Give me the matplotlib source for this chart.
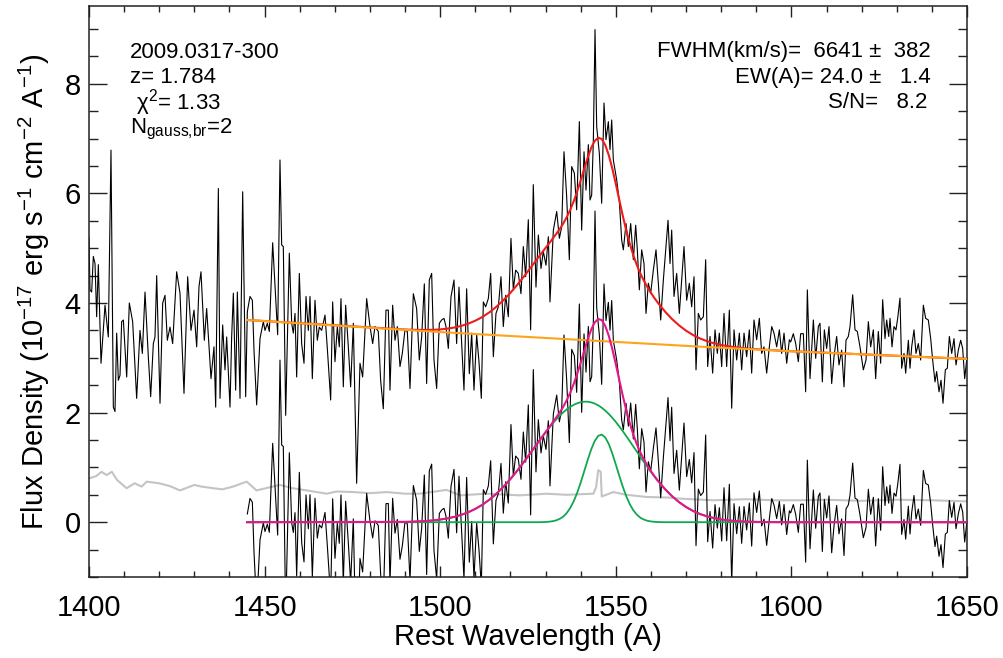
import numpy as np
import matplotlib
matplotlib.use("Agg")
import matplotlib.pyplot as plt
from matplotlib.ticker import MultipleLocator

# ---------------- data ----------------
# observed spectrum (rest wavelength, flux density)
wave = [1400.00, 1400.28, 1400.76, 1401.23, 1401.71, 1402.18, 1402.66, 1403.42, 1404.56, 1405.50,
        1406.26, 1406.93, 1407.40, 1407.88, 1408.35, 1408.83, 1409.30, 1409.78, 1410.73, 1411.48,
        1412.43, 1413.57, 1414.52, 1415.19, 1415.95, 1416.89, 1417.56, 1418.32, 1418.79, 1419.27,
        1420.22, 1420.98, 1421.64, 1422.30, 1423.06, 1423.82, 1424.96, 1425.91, 1427.05, 1428.09,
        1429.04, 1429.90, 1430.66, 1431.32, 1431.89, 1432.84, 1433.50, 1434.74, 1435.59, 1436.07,
        1436.83, 1437.30, 1438.06, 1438.72, 1439.20, 1440.15, 1440.62, 1441.10, 1441.76, 1442.24,
        1443.00, 1443.76, 1444.61, 1445.08, 1445.84, 1446.51, 1446.98, 1447.74, 1448.69, 1449.64,
        1450.11, 1450.78, 1451.35, 1451.82, 1452.30, 1453.25, 1453.72, 1454.38, 1454.86, 1455.33,
        1456.00, 1457.04, 1457.71, 1458.18, 1458.66, 1459.13, 1459.89, 1460.55, 1461.22, 1461.79,
        1462.45, 1462.93, 1463.59, 1464.35, 1465.01, 1465.58, 1466.25, 1467.20, 1467.86, 1468.81,
        1469.38, 1470.04, 1470.71, 1471.27, 1471.75, 1472.41, 1473.08, 1473.84, 1474.50, 1475.26,
        1476.21, 1477.16, 1477.92, 1479.06, 1480.01, 1480.77, 1481.43, 1482.38, 1483.04, 1483.80,
        1484.56, 1485.23, 1485.70, 1486.46, 1487.13, 1487.79, 1488.55, 1489.21, 1489.97, 1490.64,
        1491.40, 1492.35, 1493.29, 1494.05, 1494.72, 1495.48, 1496.14, 1496.90, 1497.57, 1498.23,
        1498.99, 1499.75, 1500.41, 1501.08, 1501.65, 1502.31, 1503.07, 1503.93, 1504.68, 1505.35,
        1505.92, 1506.77, 1507.53, 1508.29, 1508.96, 1509.62, 1510.38, 1511.04, 1511.71, 1512.28,
        1512.94, 1513.70, 1514.37, 1515.13, 1515.88, 1516.55, 1517.31, 1517.97, 1518.64, 1519.39,
        1520.15, 1520.82, 1521.48, 1522.24, 1523.00, 1523.67, 1524.33, 1525.09, 1525.75, 1526.51,
        1527.27, 1527.94, 1528.70, 1529.36, 1530.12, 1530.79, 1531.26, 1532.22, 1533.17, 1533.93,
        1534.59, 1535.25, 1536.01, 1536.77, 1537.44, 1538.20, 1538.86, 1539.62, 1540.28, 1540.95,
        1541.52, 1542.18, 1542.66, 1543.13, 1543.61, 1544.08, 1544.56, 1545.31, 1545.98, 1546.64,
        1547.21, 1547.88, 1548.35, 1548.83, 1549.30, 1550.25, 1551.01, 1551.67, 1552.15, 1552.91,
        1553.57, 1554.24, 1555.00, 1555.66, 1556.13, 1556.70, 1557.37, 1558.03, 1558.60, 1559.27,
        1559.93, 1560.69, 1561.45, 1562.11, 1562.78, 1563.54, 1564.30, 1564.87, 1565.44, 1565.91,
        1566.58, 1567.33, 1568.09, 1568.76, 1569.42, 1570.18, 1570.94, 1571.61, 1572.27, 1572.84,
        1573.50, 1574.17, 1574.93, 1575.59, 1576.16, 1576.83, 1577.58, 1578.25, 1578.91, 1579.48,
        1580.15, 1580.81, 1581.57, 1582.33, 1583.00, 1583.66, 1584.42, 1585.18, 1585.84, 1586.51,
        1587.26, 1588.02, 1588.69, 1589.35, 1590.11, 1590.87, 1591.54, 1592.20, 1592.96, 1593.72,
        1594.40, 1595.05, 1595.81, 1596.57, 1597.23, 1597.90, 1598.66, 1599.42, 1599.79, 1600.55,
        1601.22, 1601.97, 1602.64, 1603.40, 1604.06, 1604.54, 1605.30, 1606.25, 1606.91, 1607.67,
        1608.14, 1608.81, 1609.38, 1610.04, 1610.71, 1611.47, 1612.13, 1612.89, 1613.55, 1614.31,
        1614.98, 1615.55, 1616.21, 1616.69, 1617.45, 1618.11, 1618.77, 1619.53, 1620.48, 1621.24,
        1621.91, 1622.57, 1623.33, 1623.99, 1624.75, 1625.42, 1625.99, 1626.65, 1627.13, 1627.70,
        1628.08, 1628.65, 1629.22, 1629.78, 1630.26, 1630.92, 1631.40, 1632.06, 1632.54, 1633.30,
        1633.77, 1634.25, 1634.91, 1635.48, 1636.14, 1636.81, 1637.57, 1638.23, 1638.99, 1639.66,
        1640.22, 1640.89, 1641.36, 1642.03, 1642.60, 1643.17, 1643.83, 1644.40, 1644.97, 1645.64,
        1646.30, 1646.87, 1647.53, 1648.20, 1648.77, 1649.34, 1649.91]
flux = [5.19, 4.24, 4.20, 4.85, 4.72, 3.75, 4.70, 2.90, 3.96, 3.38,
        6.79, 2.10, 2.02, 3.45, 2.59, 2.68, 3.66, 3.69, 2.65, 4.00,
        3.66, 2.26, 3.50, 3.08, 4.20, 3.02, 2.29, 3.26, 3.38, 4.50,
        2.17, 4.00, 4.14, 3.32, 3.56, 3.26, 4.57, 4.18, 2.35, 4.48,
        3.50, 3.87, 3.20, 4.30, 4.57, 3.32, 3.90, 2.62, 3.20, 2.10,
        6.09, 2.26, 3.60, 2.78, 3.38, 2.10, 3.38, 4.18, 2.41, 4.20,
        2.26, 6.03, 2.29, 3.84, 4.12, 4.05, 3.14, 2.14, 3.35, 3.66,
        3.50, 3.63, 3.48, 4.30, 5.10, 3.99, 3.42, 6.61, 5.06, 5.03,
        1.95, 4.91, 3.63, 3.45, 3.81, 2.65, 4.54, 3.26, 2.90, 4.12,
        3.50, 4.12, 2.62, 4.05, 3.32, 3.56, 3.50, 3.78, 3.17, 2.23,
        4.02, 2.93, 3.57, 3.20, 4.08, 2.47, 3.96, 3.20, 2.47, 3.63,
        0.71, 2.90, 2.65, 4.08, 3.57, 3.26, 3.57, 3.48, 2.59, 2.07,
        3.87, 3.87, 2.41, 3.96, 3.32, 3.57, 2.84, 3.08, 3.51, 3.48,
        2.44, 4.17, 3.90, 2.96, 3.38, 4.35, 2.53, 4.42, 4.54, 2.96,
        2.44, 3.63, 3.69, 3.72, 3.57, 3.17, 4.11, 4.42, 3.26, 4.29,
        3.51, 2.41, 4.26, 2.71, 3.45, 2.41, 3.42, 2.93, 2.26, 4.02,
        3.93, 4.08, 4.54, 3.02, 3.81, 3.93, 4.48, 3.57, 4.14, 3.75,
        5.18, 4.24, 4.60, 4.54, 4.17, 5.03, 4.48, 5.52, 3.51, 6.16,
        4.29, 5.24, 4.63, 4.94, 4.69, 5.21, 4.02, 5.33, 5.67, 5.18,
        5.39, 6.76, 5.94, 4.79, 6.49, 6.37, 5.70, 7.31, 5.33, 6.76,
        6.06, 6.89, 5.88, 5.97, 6.98, 8.99, 7.22, 6.73, 5.82, 7.65,
        6.98, 7.31, 6.80, 7.34, 6.61, 6.25, 5.85, 5.15, 4.97, 5.45,
        5.03, 5.45, 4.79, 5.42, 4.97, 4.24, 4.97, 4.72, 3.81, 4.36,
        4.18, 4.60, 4.97, 4.36, 3.69, 4.42, 5.03, 5.51, 4.72, 5.33,
        4.12, 4.54, 3.81, 4.42, 5.03, 4.05, 4.36, 3.93, 4.48, 2.78,
        3.81, 3.69, 3.75, 4.79, 2.84, 3.39, 2.72, 3.51, 3.08, 3.45,
        2.84, 3.81, 2.84, 3.87, 2.08, 3.51, 2.96, 3.45, 2.78, 3.45,
        3.02, 3.51, 2.72, 3.69, 3.33, 3.72, 3.08, 3.20, 2.72, 3.20,
        3.57, 3.45, 3.20, 3.51, 3.08, 3.45, 2.90, 3.33, 3.29, 3.44,
        3.26, 2.93, 3.44, 3.44, 2.38, 4.24, 2.62, 3.69, 2.99, 3.57,
        3.63, 2.56, 3.51, 3.17, 3.57, 2.53, 3.02, 3.39, 2.87, 3.14,
        2.47, 3.32, 3.39, 3.57, 4.15, 3.51, 3.48, 3.20, 2.78, 2.96,
        3.66, 3.20, 3.51, 2.62, 3.48, 2.90, 4.06, 3.35, 3.69, 3.39,
        3.72, 3.20, 3.57, 3.51, 3.72, 4.09, 2.81, 3.08, 2.72, 3.32,
        2.81, 3.20, 3.51, 3.08, 3.26, 2.96, 3.96, 3.72, 3.69, 3.35,
        2.96, 2.56, 2.75, 2.38, 2.59, 2.17, 2.78, 2.81, 3.39, 3.08,
        3.35, 2.87, 3.14, 3.32, 3.17, 2.62, 2.96]

# error spectrum (grey)
err_wave = [1400, 1402, 1403.6, 1405, 1406.5, 1408, 1410.7, 1413, 1415, 1416.4,
            1420, 1423, 1425.9, 1430, 1432, 1435.4, 1438, 1441, 1444.9, 1447.7,
            1451, 1454.4, 1458, 1462, 1467.7, 1470.5, 1475.3, 1480, 1484.8, 1490,
            1494.2, 1501.8, 1505.6, 1513.2, 1522.7, 1530.3, 1536, 1543.6, 1544.4, 1545.0,
            1545.7, 1546.0, 1549.3, 1553, 1558.8, 1565, 1568.3, 1577.8, 1587, 1595,
            1602.4, 1610, 1620, 1630, 1640, 1650]
err_flux = [0.80, 0.84, 0.92, 0.86, 0.92, 0.77, 0.62, 0.71, 0.65, 0.74,
            0.71, 0.66, 0.58, 0.68, 0.65, 0.62, 0.60, 0.65, 0.74, 0.58,
            0.63, 0.68, 0.62, 0.58, 0.52, 0.56, 0.55, 0.53, 0.55, 0.52,
            0.52, 0.59, 0.49, 0.52, 0.49, 0.52, 0.50, 0.52, 0.64, 0.95,
            0.92, 0.47, 0.55, 0.50, 0.46, 0.45, 0.43, 0.40, 0.42, 0.40,
            0.40, 0.41, 0.39, 0.41, 0.40, 0.38]

# continuum fit (orange)
cont_wave = [1445, 1470, 1500, 1525, 1550, 1575, 1600, 1625, 1650]
cont_flux = [3.69, 3.59, 3.47, 3.38, 3.29, 3.20, 3.12, 3.05, 2.98]

# broad and narrow Gaussian components (green)
model_wave = ([1445] + list(range(1490, 1531, 2)) + list(range(1531, 1563))
              + list(range(1564, 1601, 2)) + [1650])
broad = [0.0,
         0.006, 0.009, 0.015, 0.022, 0.033, 0.048, 0.069, 0.097, 0.134, 0.182,
         0.243, 0.318, 0.41, 0.519, 0.645, 0.788, 0.945, 1.114, 1.29, 1.467, 1.64,
         1.72, 1.80, 1.874, 1.94, 2.003, 2.057, 2.103, 2.141, 2.17, 2.189, 2.199,
         2.199, 2.187, 2.165, 2.132, 2.089, 2.036, 1.975, 1.906, 1.83, 1.748, 1.66,
         1.569, 1.476, 1.381, 1.286, 1.191, 1.098, 1.007, 0.918, 0.833, 0.753,
         0.605, 0.476, 0.367, 0.277, 0.205, 0.149, 0.106, 0.074, 0.05, 0.034,
         0.022, 0.014, 0.009, 0.006, 0.003, 0.002, 0.001, 0.0, 0.0,
         0.0]
narrow = [0.0,
          0.0, 0.0, 0.0, 0.0, 0.0, 0.0, 0.0, 0.0, 0.0, 0.0,
          0.0, 0.0, 0.0, 0.0, 0.0, 0.0, 0.0, 0.0, 0.0, 0.0, 0.004,
          0.009, 0.018, 0.033, 0.06, 0.10, 0.165, 0.257, 0.38, 0.536, 0.723, 0.928,
          1.137, 1.329, 1.482, 1.576, 1.599, 1.546, 1.427, 1.256, 1.054, 0.845, 0.645,
          0.47, 0.326, 0.216, 0.137, 0.082, 0.048, 0.026, 0.014, 0.007, 0.003,
          0.0, 0.0, 0.0, 0.0, 0.0, 0.0, 0.0, 0.0, 0.0, 0.0,
          0.0, 0.0, 0.0, 0.0, 0.0, 0.0, 0.0, 0.0, 0.0,
          0.0]
fit_start = 1445.0

info_left = ["2009.0317-300", "z= 1.784", " \u03c7$^2$= 1.33", "N$_{\\rm gauss{,}br}$=2"]
info_right = ["FWHM(km/s)=  6641 \u00b1  382", "EW(A)= 24.0 \u00b1   1.4", "S/N=   8.2"]
xlabel = "Rest Wavelength (A)"
ylabel = "Flux Density (10$^{-17}$ erg s$^{-1}$ cm$^{-2}$ A$^{-1}$)"

# ---------------- plotting ----------------
plt.rcParams['font.family'] = ['Liberation Sans', 'DejaVu Sans']
plt.rcParams['mathtext.fontset'] = 'custom'
plt.rcParams['mathtext.rm'] = 'Liberation Sans'
plt.rcParams['mathtext.it'] = 'Liberation Sans:italic'
plt.rcParams['mathtext.bf'] = 'Liberation Sans:bold'

W, H = 1004, 658
fig = plt.figure(figsize=(W / 100, H / 100), dpi=100)
ax = fig.add_axes([89 / W, 1 - 577 / H, (967 - 89) / W, (577 - 6) / H])

wave_a = np.array(wave)
flux_a = np.array(flux)
mw = np.array(model_wave, dtype=float)
broad_a = np.array(broad)
narrow_a = np.array(narrow)

cont_on_spec = np.interp(wave_a, cont_wave, cont_flux)
cont_on_model = np.interp(mw, cont_wave, cont_flux)
sel = wave_a >= fit_start
resid_w = wave_a[sel]
resid_f = flux_a[sel] - cont_on_spec[sel]
total = broad_a + narrow_a

ax.plot(err_wave, err_flux, color='#c4c4c4', lw=1.5, zorder=1)
ax.plot(wave_a, flux_a, color='black', lw=0.8, zorder=2)
ax.plot(resid_w, resid_f, color='black', lw=0.8, zorder=2)
ax.plot(mw, cont_on_model + total, color='#ee1c1c', lw=1.5, zorder=3)
ax.plot(cont_wave, cont_flux, color='#ffa31a', lw=1.5, zorder=4)
ax.plot(mw, broad_a, color='#10a84e', lw=1.3, zorder=4)
ax.plot(mw, narrow_a, color='#10a84e', lw=1.3, zorder=4)
ax.plot(mw, total, color='#e6158c', lw=1.5, zorder=5)

ax.set_xlim(1400, 1650)
ax.set_ylim(-1.0, 9.42)
ax.xaxis.set_major_locator(MultipleLocator(50))
ax.xaxis.set_minor_locator(MultipleLocator(10))
ax.yaxis.set_major_locator(MultipleLocator(2))
ax.yaxis.set_minor_locator(MultipleLocator(0.5))
ax.tick_params(axis='both', which='both', direction='in', top=True, right=True,
               width=1.0, colors='#222222', labelcolor='black')
ax.tick_params(axis='x', which='major', length=8.2, labelsize=21, pad=12)
ax.tick_params(axis='x', which='minor', length=4.3)
ax.tick_params(axis='y', which='major', length=12.7, labelsize=21, pad=6)
ax.tick_params(axis='y', which='minor', length=6.4)
for s in ax.spines.values():
    s.set_linewidth(1.1)
    s.set_color('#222222')

ax.set_xlabel(xlabel, fontsize=21, labelpad=1)
ax.set_ylabel(ylabel, fontsize=21, labelpad=9)

left_y = [58, 83, 109, 133]
for txt, yy in zip(info_left, left_y):
    fig.text(130 / W, 1 - yy / H, txt, fontsize=16, ha='left', va='baseline')
right_pos = [(931, 57), (931, 83), (927, 108)]
for txt, (xx, yy) in zip(info_right, right_pos):
    fig.text(xx / W, 1 - yy / H, txt, fontsize=16, ha='right', va='baseline')

fig.savefig("out.png", dpi=100)
